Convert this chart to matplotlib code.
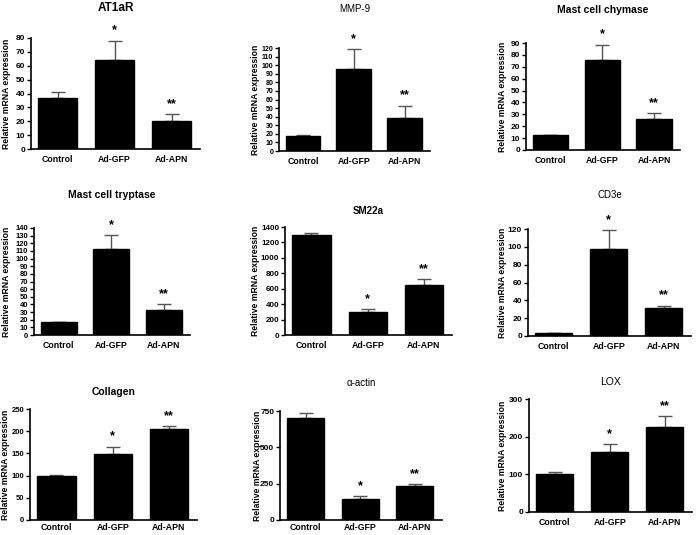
import matplotlib
matplotlib.use("Agg")
import matplotlib.pyplot as plt
import numpy as np

plt.rcParams["font.family"] = ["Liberation Sans", "DejaVu Sans"]

groups = ["Control", "Ad-GFP", "Ad-APN"]
genes = ["AT1aR", "MMP-9", "Mast cell chymase",
         "Mast cell tryptase", "SM22a", "CD3e",
         "Collagen", "\u03b1-actin", "LOX"]

mean_control = [36.5, 17, 12.5, 16.5, 1300, 3, 100, 705, 102]
mean_gfp = [64.5, 96, 76, 112, 295, 98, 148, 145, 160]
mean_apn = [20.4, 38, 26, 33, 650, 31.5, 205, 235, 225]
err_control = [4.5, 2, 0.5, 1, 20, 0.5, 2, 30, 3]
err_gfp = [13.5, 23, 12.5, 19, 40, 21, 17, 17, 20]
err_apn = [4.5, 15, 5, 7, 70, 2.5, 6, 10, 30]
stars = ["", "*", "**"]

y_max = [80, 120, 90, 140, 1400, 120, 250, 750, 300]
y_step = [10, 10, 10, 10, 200, 20, 50, 250, 100]

# layout in pixels: (left, right, top, bottom) of each axes, title y, ylabel x
W, H = 700, 535
boxes = [
    (31, 200, 38, 149), (279, 430, 48, 151), (526, 680, 43, 150),
    (34, 190, 228, 335), (285, 452, 227, 335), (528, 691, 229, 336),
    (30, 197, 409, 520), (280, 442, 411, 520), (529, 692, 399, 512),
]
title_y = [8, 9, 10, 195, 211, 195, 392, 383, 382]
title_size = [8.5, 7, 7.5, 7.5, 7, 7, 7.5, 7, 7.5]
title_weight = ["bold", "normal", "bold", "bold", "bold", "normal", "bold", "normal", "normal"]
ylabel_x = [7, 255, 503, 7, 256, 503, 6, 257, 503]
tick_size = [6, 5, 6, 5.5, 5.8, 6, 5.5, 6, 6]
xtick_pad = [4, 4, 4, 4, 4, 4, 2.5, 2.5, 4]

fig = plt.figure(figsize=(W / 100, H / 100), dpi=100)

x = np.arange(len(groups))
for i, gene in enumerate(genes):
    l, r, t, b = boxes[i]
    ax = fig.add_axes([l / W, 1 - b / H, (r - l) / W, (b - t) / H])
    means = [mean_control[i], mean_gfp[i], mean_apn[i]]
    errs = [err_control[i], err_gfp[i], err_apn[i]]
    ax.bar(x, means, width=0.68, color="black", edgecolor="black", zorder=3)
    ax.errorbar(x, means, yerr=[np.zeros(3), errs], fmt="none",
                ecolor="#555555", elinewidth=1.0, capsize=5, capthick=1.0, zorder=2)
    for xi, m, e, s in zip(x, means, errs, stars):
        if s:
            ax.annotate(s, (xi, m + e), xytext=(0, 3), textcoords="offset points",
                        ha="center", va="bottom", fontsize=9, fontweight="bold")
    ax.set_xlim(-0.47, 2.5)
    ax.set_ylim(0, y_max[i])
    ax.set_yticks(np.arange(0, y_max[i] + 1, y_step[i]))
    ax.set_xticks(x)
    ax.set_xticklabels(groups)
    ax.tick_params(axis="x", length=0, pad=xtick_pad[i], labelsize=6.3)
    ax.tick_params(axis="y", length=3, width=1, pad=1.2, labelsize=tick_size[i])
    for lab in ax.get_xticklabels() + ax.get_yticklabels():
        lab.set_fontweight("bold")
    for side in ["top", "right"]:
        ax.spines[side].set_visible(False)
    for side in ["left", "bottom"]:
        ax.spines[side].set_linewidth(1.2)
    fig.text((l + r) / 2 / W, 1 - title_y[i] / H, gene, ha="center", va="center",
             fontsize=title_size[i], fontweight=title_weight[i])
    fig.text(ylabel_x[i] / W, 1 - (t + b) / 2 / H, "Relative mRNA expression",
             rotation=90, ha="center", va="center", fontsize=6.2, fontweight="bold")

fig.savefig("out.png", dpi=100)
